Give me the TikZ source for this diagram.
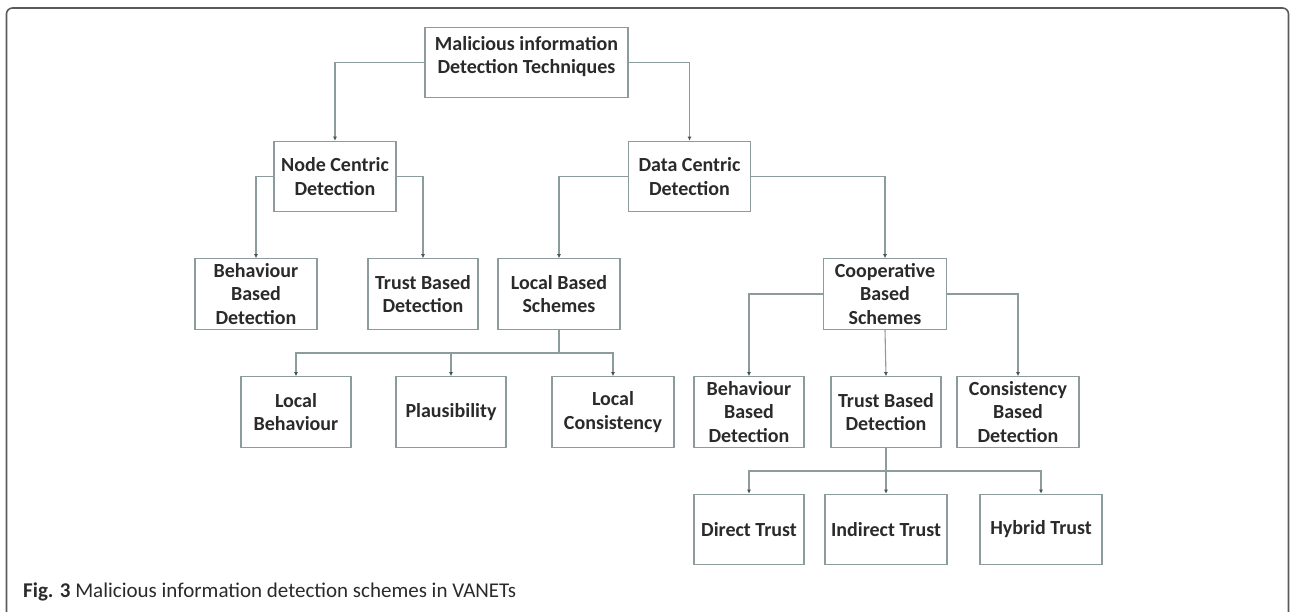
\documentclass[tikz,border=0pt]{standalone}
\usepackage{fontspec}
\setmainfont{Carlito}
\usetikzlibrary{arrows.meta}
\definecolor{boxline}{HTML}{8C9B9B}
\definecolor{tipgray}{HTML}{4A5656}
\definecolor{boxtext}{HTML}{2A2A2A}
\definecolor{framegray}{HTML}{5A5A5A}

\begin{document}
\begin{tikzpicture}[x=1pt, y=-1pt,
    box/.style={rectangle, draw=boxline, line width=1.1pt, text=boxtext, align=center, inner sep=0pt,
        minimum width=#1, minimum height=70.5pt, font=\fontsize{20}{23.5}\selectfont\bfseries},
    box/.default=122pt,
    link/.style={draw=boxline, line width=1.1pt, -{Latex[length=4pt, width=4pt, color=tipgray]}},
    bar/.style={draw=boxline, line width=1.1pt}]
    \useasboundingbox (0,0) rectangle (1290,612);
    \draw[framegray, line width=1.6pt, rounded corners=6pt] (6.5,620) -- (6.5,8) -- (1288.5,8) -- (1288.5,620);

    \node[box=203pt] (root) at (526.5,62.5) {Malicious information\\Detection Techniques\\[-8pt] \mbox{}};
    \node[box] (nc) at (335,176.5) {Node Centric\\Detection};
    \node[box] (dc) at (689.5,176.5) {Data Centric\\Detection};

    \node[box] (beh1) at (256,294) {Behaviour\\Based\\Detection};
    \node[box=110pt] (tbd1) at (423,294) {Trust Based\\Detection};
    \node[box] (lbs) at (559,294) {Local Based\\Schemes};
    \node[box=123pt] (cbs) at (885,294) {Cooperative\\Based\\Schemes};

    \node[box=110pt] (lbeh) at (296,412) {Local\\Behaviour};
    \node[box=110pt] (plaus) at (451,412) {Plausibility};
    \node[box] (lcons) at (613,412) {Local\\Consistency};
    \node[box=110pt] (beh2) at (749,412) {Behaviour\\Based\\Detection};
    \node[box=110pt] (tbd2) at (886,412) {Trust Based\\Detection};
    \node[box] (cons) at (1018,412) {Consistency\\Based\\Detection};

    \node[box=110pt] (direct) at (749,529.5) {Direct Trust};
    \node[box] (indirect) at (886,529.5) {Indirect Trust};
    \node[box] (hybrid) at (1041,529.5) {Hybrid Trust};

    \coordinate (lbsbar) at (559,353);
    \coordinate (tbdbar) at (886,471);

    \draw[link] (root.west) -| (nc.north);
    \draw[link] (root.east) -| (dc.north);
    \draw[link] (nc.west) -| (beh1.north);
    \draw[link] (nc.east) -| (tbd1.north);
    \draw[link] (dc.west) -| (lbs.north);
    \draw[link] (dc.east) -| (cbs.north);
    \draw[link] (cbs.west) -| (beh2.north);
    \draw[link] (cbs.east) -| (cons.north);
    \draw[link] (cbs.south) -- (tbd2.north);

    \draw[bar] (lbs.south) -- (lbsbar);
    \draw[link] (lbsbar) -| (lbeh.north);
    \draw[link] (lbsbar) -| (plaus.north);
    \draw[link] (lbsbar) -| (lcons.north);

    \draw[bar] (tbd2.south) -- (tbdbar);
    \draw[link] (tbdbar) -| (direct.north);
    \draw[link] (tbdbar) -- (indirect.north);
    \draw[link] (tbdbar) -| (hybrid.north);

    \node[anchor=base west, text=boxtext, inner sep=0pt, font=\fontsize{21}{24}\selectfont] (caption) at (23,597)
        {\textbf{Fig. 3} Malicious information detection schemes in VANETs};
\end{tikzpicture}
\end{document}
